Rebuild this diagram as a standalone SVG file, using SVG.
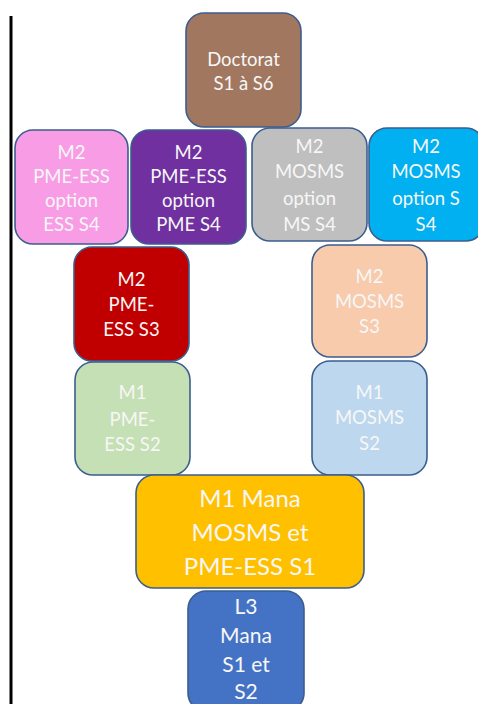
<svg xmlns="http://www.w3.org/2000/svg" width="478" height="704" viewBox="0 0 478 704">
<style>
.b{stroke:#3b5e8e;stroke-width:1.6}
text{font-family:Lato,"Open Sans",sans-serif;fill:#f7f7f7;text-anchor:middle}
.s{font-size:18.5px}
.m{font-size:21px}
.l{font-size:24px}
</style>
<rect width="478" height="704" fill="#ffffff"/>
<line x1="11" y1="16" x2="11" y2="704" stroke="#000" stroke-width="3"/>
<g id="connectors"/>
<g id="doctorat">
<rect class="b" x="186" y="13" width="115" height="114" rx="18" fill="#a27760"/>
<text class="s" x="243.5" y="66">Doctorat</text>
<text class="s" x="243.5" y="90">S1 à S6</text>
</g>
<g id="m2-ess-s4">
<rect class="b" x="15" y="130" width="113" height="114" rx="18" fill="#f89de5"/>
<text class="s" x="71.5" y="159">M2</text>
<text class="s" x="71.5" y="183">PME-ESS</text>
<text class="s" x="71.5" y="207">option</text>
<text class="s" x="71.5" y="231">ESS S4</text>
</g>
<g id="m2-pme-s4">
<rect class="b" x="131" y="130" width="115" height="114" rx="18" fill="#7030a0"/>
<text class="s" x="188.5" y="159">M2</text>
<text class="s" x="188.5" y="183">PME-ESS</text>
<text class="s" x="188.5" y="207">option</text>
<text class="s" x="188.5" y="231">PME S4</text>
</g>
<g id="m2-ms-s4">
<rect class="b" x="252" y="128" width="115" height="113" rx="18" fill="#bfbfbf"/>
<text class="s" x="309.5" y="153">M2</text>
<text class="s" x="309.5" y="178">MOSMS</text>
<text class="s" x="309.5" y="205">option</text>
<text class="s" x="309.5" y="231">MS S4</text>
</g>
<g id="m2-s-s4">
<rect class="b" x="369" y="128" width="115" height="113" rx="18" fill="#00b0f0"/>
<text class="s" x="426" y="153">M2</text>
<text class="s" x="426" y="178">MOSMS</text>
<text class="s" x="426" y="205">option S</text>
<text class="s" x="426" y="231">S4</text>
</g>
<g id="m2-pme-ess-s3">
<rect class="b" x="74" y="247" width="115" height="114" rx="18" fill="#c00000"/>
<text class="s" x="131.5" y="286">M2</text>
<text class="s" x="131.5" y="311">PME-</text>
<text class="s" x="131.5" y="336">ESS S3</text>
</g>
<g id="m2-mosms-s3">
<rect class="b" x="312" y="245" width="115" height="112" rx="18" fill="#f8cbad"/>
<text class="s" x="369.5" y="283">M2</text>
<text class="s" x="369.5" y="308">MOSMS</text>
<text class="s" x="369.5" y="333">S3</text>
</g>
<g id="m1-pme-ess-s2">
<rect class="b" x="75" y="362" width="115" height="113" rx="18" fill="#c5e0b4"/>
<text class="s" x="132.5" y="399">M1</text>
<text class="s" x="132.5" y="426">PME-</text>
<text class="s" x="132.5" y="451">ESS S2</text>
</g>
<g id="m1-mosms-s2">
<rect class="b" x="312" y="361" width="115" height="114" rx="18" fill="#bdd7ee"/>
<text class="s" x="369.5" y="399">M1</text>
<text class="s" x="369.5" y="424">MOSMS</text>
<text class="s" x="369.5" y="450">S2</text>
</g>
<g id="m1-mana-s1">
<rect class="b" x="136" y="475" width="228" height="113" rx="18" fill="#ffc000"/>
<text class="l" x="250" y="507">M1 Mana</text>
<text class="l" x="250" y="541">MOSMS et</text>
<text class="l" x="250" y="575">PME-ESS S1</text>
</g>
<g id="l3-mana">
<rect class="b" x="188" y="591" width="116" height="120" rx="18" fill="#4472c4"/>
<text class="m" x="246" y="614">L3</text>
<text class="m" x="246" y="643">Mana</text>
<text class="m" x="246" y="672">S1 et</text>
<text class="m" x="246" y="699">S2</text>
</g>
</svg>
